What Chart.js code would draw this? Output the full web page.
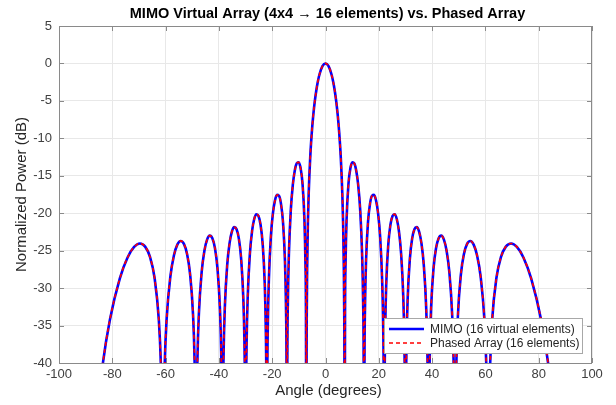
<!DOCTYPE html>
<html>
<head>
<meta charset="utf-8">
<script src="https://cdn.jsdelivr.net/npm/chart.js@4.4.1/dist/chart.umd.min.js"></script>
<style>
  html, body { margin: 0; padding: 0; background: #ffffff; }
  canvas { display: block; }
</style>
</head>
<body>
<canvas id="chart" width="616" height="405"></canvas>
<script>
// Array-factor comparison: 4x4 MIMO virtual array (16 elements) vs. 16-element phased array.
// Angles in degrees; power in dB normalised to the main-lobe peak. Nulls sit below the axis floor.
const angles = [
  -90.000, -85.948, -83.591, -80.934, -77.167, -74.266, -71.809, -69.642, -67.674, -65.855, -64.161, -62.565, -61.796, -61.346,
  -61.046, -60.753, -60.317, -59.602, -58.214, -56.879, -55.592, -54.344, -53.131, -51.953, -50.806, -49.688, -49.136, -48.809,
  -48.593, -48.377, -48.053, -47.522, -46.471, -45.441, -44.429, -43.434, -42.456, -41.493, -40.543, -39.607, -39.143, -38.867,
  -38.684, -38.501, -38.226, -37.772, -36.870, -35.980, -35.100, -34.230, -33.368, -32.515, -31.669, -30.831, -30.416, -30.166,
  -30.000, -29.835, -29.589, -29.177, -28.360, -27.550, -26.745, -25.945, -25.151, -24.363, -23.579, -22.799, -22.412, -22.179,
  -22.024, -21.870, -21.639, -21.254, -20.487, -19.725, -18.966, -18.210, -17.458, -16.708, -15.962, -15.218, -14.848, -14.626,
  -14.478, -14.330, -14.108, -13.739, -13.003, -12.269, -11.537, -10.807, -10.079, -9.352, -8.627, -7.903, -7.542, -7.325,
  -7.181, -7.123, -7.036, -6.892, -6.604, -6.315, -5.739, -5.164, -4.589, -4.014, -3.440, -2.866, -2.292, -1.146,
  0.000,
  1.146, 2.292, 2.866, 3.440, 4.014, 4.589, 5.164, 5.739, 6.315, 6.604, 6.892, 7.036, 7.123, 7.181,
  7.325, 7.542, 7.903, 8.627, 9.352, 10.079, 10.807, 11.537, 12.269, 13.003, 13.739, 14.108, 14.330, 14.478,
  14.626, 14.848, 15.218, 15.962, 16.708, 17.458, 18.210, 18.966, 19.725, 20.487, 21.254, 21.639, 21.870, 22.024,
  22.179, 22.412, 22.799, 23.579, 24.363, 25.151, 25.945, 26.745, 27.550, 28.360, 29.177, 29.589, 29.835, 30.000,
  30.166, 30.416, 30.831, 31.669, 32.515, 33.368, 34.230, 35.100, 35.980, 36.870, 37.772, 38.226, 38.501, 38.684,
  38.867, 39.143, 39.607, 40.543, 41.493, 42.456, 43.434, 44.429, 45.441, 46.471, 47.522, 48.053, 48.377, 48.593,
  48.809, 49.136, 49.688, 50.806, 51.953, 53.131, 54.344, 55.592, 56.879, 58.214, 59.602, 60.317, 60.753, 61.046,
  61.346, 61.796, 62.565, 64.161, 65.855, 67.674, 69.642, 71.809, 74.266, 77.167, 80.934, 83.591, 85.948, 90.000
];

const mimoDb = [
  -60, -48.12, -40.19, -34.28, -28.70, -25.91, -24.50, -24.04, -24.46, -25.84, -28.59, -34.15, -40.04, -47.96,
  -60, -47.95, -40.01, -34.08, -28.46, -25.64, -24.19, -23.70, -24.09, -25.43, -28.15, -33.66, -39.54, -47.45,
  -60, -47.42, -39.47, -33.52, -27.87, -25.01, -23.52, -22.99, -23.34, -24.64, -27.32, -32.79, -38.65, -46.54,
  -60, -46.50, -38.53, -32.56, -26.86, -23.96, -22.42, -21.85, -22.14, -23.39, -26.02, -31.44, -37.27, -45.15,
  -60, -45.08, -37.09, -31.10, -25.34, -22.37, -20.77, -20.13, -20.36, -21.54, -24.09, -29.42, -35.21, -43.07,
  -60, -42.97, -34.96, -28.92, -23.06, -20.00, -18.30, -17.55, -17.66, -18.72, -21.14, -26.34, -32.05, -39.86,
  -60, -39.70, -31.64, -25.52, -19.49, -16.23, -14.32, -13.34, -13.19, -13.97, -16.06, -20.90, -26.41, -34.09,
  -60, -41.80, -33.76, -27.58, -21.26, -17.47, -12.58, -9.33, -6.91, -5.04, -3.57, -2.41, -1.51, -0.37,
  0.00,
  -0.37, -1.51, -2.41, -3.57, -5.04, -6.91, -9.33, -12.58, -17.47, -21.26, -27.58, -33.76, -41.80, -60,
  -34.09, -26.41, -20.90, -16.06, -13.97, -13.19, -13.34, -14.32, -16.23, -19.49, -25.52, -31.64, -39.70, -60,
  -39.86, -32.05, -26.34, -21.14, -18.72, -17.66, -17.55, -18.30, -20.00, -23.06, -28.92, -34.96, -42.97, -60,
  -43.07, -35.21, -29.42, -24.09, -21.54, -20.36, -20.13, -20.77, -22.37, -25.34, -31.10, -37.09, -45.08, -60,
  -45.15, -37.27, -31.44, -26.02, -23.39, -22.14, -21.85, -22.42, -23.96, -26.86, -32.56, -38.53, -46.50, -60,
  -46.54, -38.65, -32.79, -27.32, -24.64, -23.34, -22.99, -23.52, -25.01, -27.87, -33.52, -39.47, -47.42, -60,
  -47.45, -39.54, -33.66, -28.15, -25.43, -24.09, -23.70, -24.19, -25.64, -28.46, -34.08, -40.01, -47.95, -60,
  -47.96, -40.04, -34.15, -28.59, -25.84, -24.46, -24.04, -24.50, -25.91, -28.70, -34.28, -40.19, -48.12, -60
];

const phasedDb = [
  -60, -48.12, -40.19, -34.28, -28.70, -25.91, -24.50, -24.04, -24.46, -25.84, -28.59, -34.15, -40.04, -47.96,
  -60, -47.95, -40.01, -34.08, -28.46, -25.64, -24.19, -23.70, -24.09, -25.43, -28.15, -33.66, -39.54, -47.45,
  -60, -47.42, -39.47, -33.52, -27.87, -25.01, -23.52, -22.99, -23.34, -24.64, -27.32, -32.79, -38.65, -46.54,
  -60, -46.50, -38.53, -32.56, -26.86, -23.96, -22.42, -21.85, -22.14, -23.39, -26.02, -31.44, -37.27, -45.15,
  -60, -45.08, -37.09, -31.10, -25.34, -22.37, -20.77, -20.13, -20.36, -21.54, -24.09, -29.42, -35.21, -43.07,
  -60, -42.97, -34.96, -28.92, -23.06, -20.00, -18.30, -17.55, -17.66, -18.72, -21.14, -26.34, -32.05, -39.86,
  -60, -39.70, -31.64, -25.52, -19.49, -16.23, -14.32, -13.34, -13.19, -13.97, -16.06, -20.90, -26.41, -34.09,
  -60, -41.80, -33.76, -27.58, -21.26, -17.47, -12.58, -9.33, -6.91, -5.04, -3.57, -2.41, -1.51, -0.37,
  0.00,
  -0.37, -1.51, -2.41, -3.57, -5.04, -6.91, -9.33, -12.58, -17.47, -21.26, -27.58, -33.76, -41.80, -60,
  -34.09, -26.41, -20.90, -16.06, -13.97, -13.19, -13.34, -14.32, -16.23, -19.49, -25.52, -31.64, -39.70, -60,
  -39.86, -32.05, -26.34, -21.14, -18.72, -17.66, -17.55, -18.30, -20.00, -23.06, -28.92, -34.96, -42.97, -60,
  -43.07, -35.21, -29.42, -24.09, -21.54, -20.36, -20.13, -20.77, -22.37, -25.34, -31.10, -37.09, -45.08, -60,
  -45.15, -37.27, -31.44, -26.02, -23.39, -22.14, -21.85, -22.42, -23.96, -26.86, -32.56, -38.53, -46.50, -60,
  -46.54, -38.65, -32.79, -27.32, -24.64, -23.34, -22.99, -23.52, -25.01, -27.87, -33.52, -39.47, -47.42, -60,
  -47.45, -39.54, -33.66, -28.15, -25.43, -24.09, -23.70, -24.19, -25.64, -28.46, -34.08, -40.01, -47.95, -60,
  -47.96, -40.04, -34.15, -28.59, -25.84, -24.46, -24.04, -24.50, -25.91, -28.70, -34.28, -40.19, -48.12, -60
];

const xTickValues = [-100, -80, -60, -40, -20, 0, 20, 40, 60, 80, 100];
const yTickValues = [-40, -35, -30, -25, -20, -15, -10, -5, 0, 5];

const seriesLabels = ['MIMO (16 virtual elements)', 'Phased Array (16 elements)'];
const titleText = 'MIMO Virtual Array (4x4 \u2192 16 elements) vs. Phased Array';
const xTitle = 'Angle (degrees)';
const yTitle = 'Normalized Power (dB)';

const FONT = '"Liberation Sans", Arial, Helvetica, sans-serif';
const TEXT_COLOR = '#262626';
const TICK_COLOR = '#404040';
const FRAME_COLOR = '#8a8a8a';

const toPoints = (xs, ys) => xs.map((x, i) => ({ x: x, y: ys[i] }));

// Axes box with inward tick marks on all four sides, plus the title and axis labels.
const framePlugin = {
  id: 'frame',
  beforeDatasetsDraw(chart) {
    const { ctx, chartArea: a, scales } = chart;
    ctx.save();
    ctx.strokeStyle = FRAME_COLOR;
    ctx.lineWidth = 1;
    ctx.beginPath();
    const tl = 5;
    xTickValues.forEach(v => {
      const px = Math.round(scales.x.getPixelForValue(v)) + 0.5;
      ctx.moveTo(px, a.bottom); ctx.lineTo(px, a.bottom - tl);
      ctx.moveTo(px, a.top); ctx.lineTo(px, a.top + tl);
    });
    yTickValues.forEach(v => {
      const py = Math.round(scales.y.getPixelForValue(v)) + 0.5;
      ctx.moveTo(a.left, py); ctx.lineTo(a.left + tl, py);
      ctx.moveTo(a.right, py); ctx.lineTo(a.right - tl, py);
    });
    ctx.stroke();
    ctx.restore();
  },
  afterDraw(chart) {
    const { ctx, chartArea: a } = chart;
    ctx.save();
    ctx.strokeStyle = FRAME_COLOR;
    ctx.lineWidth = 1;
    ctx.strokeRect(Math.round(a.left) + 0.5, Math.round(a.top) + 0.5,
                   Math.round(a.right - a.left) - 1, Math.round(a.bottom - a.top));
    const cx = (a.left + a.right) / 2;
    ctx.fillStyle = '#000000';
    ctx.textAlign = 'center';
    ctx.textBaseline = 'middle';
    ctx.font = 'bold 14.5px ' + FONT;
    ctx.fillText(titleText, cx + 2, 14);
    ctx.fillStyle = TEXT_COLOR;
    ctx.font = '15px ' + FONT;
    ctx.fillText(xTitle, cx + 3, 391);
    ctx.translate(22, (a.top + a.bottom) / 2);
    ctx.rotate(-Math.PI / 2);
    ctx.fillText(yTitle, 0, 0);
    ctx.restore();
  }
};

// Legend box in the lower-right corner of the plot area.
const legendPlugin = {
  id: 'boxLegend',
  afterDatasetsDraw(chart) {
    const { ctx, chartArea: a } = chart;
    const ds = chart.data.datasets;
    const w = 198, h = 35;
    const x0 = a.right - 10 - w, y0 = a.bottom - 10 - h;
    ctx.save();
    ctx.fillStyle = '#ffffff';
    ctx.fillRect(x0, y0, w, h);
    ctx.strokeStyle = '#a8a8a8';
    ctx.lineWidth = 1;
    ctx.strokeRect(x0 + 0.5, y0 + 0.5, w, h);
    ctx.font = '12px ' + FONT;
    ctx.textAlign = 'left';
    ctx.textBaseline = 'middle';
    ds.forEach((d, i) => {
      const yy = y0 + 11 + i * 14;
      ctx.beginPath();
      ctx.strokeStyle = d.borderColor;
      ctx.lineWidth = d.borderWidth;
      ctx.setLineDash(d.borderDash || []);
      ctx.moveTo(x0 + 5, yy);
      ctx.lineTo(x0 + 40, yy);
      ctx.stroke();
      ctx.setLineDash([]);
      ctx.fillStyle = TEXT_COLOR;
      ctx.fillText(d.label, x0 + 46, yy + 0.5);
    });
    ctx.restore();
  }
};

new Chart(document.getElementById('chart'), {
  type: 'line',
  data: {
    datasets: [
      {
        label: seriesLabels[0],
        data: toPoints(angles, mimoDb),
        borderColor: '#0000ff',
        borderWidth: 2.6,
        pointRadius: 0,
        cubicInterpolationMode: 'monotone',
        fill: false,
        order: 2
      },
      {
        label: seriesLabels[1],
        data: toPoints(angles, phasedDb),
        borderColor: '#ff0000',
        borderWidth: 1.7,
        borderDash: [4, 3],
        pointRadius: 0,
        cubicInterpolationMode: 'monotone',
        fill: false,
        order: 1
      }
    ]
  },
  options: {
    responsive: false,
    devicePixelRatio: 1,
    animation: false,
    events: [],
    layout: { padding: { left: 0, right: 24, top: 26, bottom: 0 } },
    plugins: {
      legend: { display: false },
      title: { display: false },
      tooltip: { enabled: false }
    },
    scales: {
      x: {
        type: 'linear',
        min: -100,
        max: 100,
        afterBuildTicks: s => { s.ticks = xTickValues.map(v => ({ value: v })); },
        afterFit: s => { s.height = 42; },
        grid: { color: '#e8e8e8', drawTicks: false, lineWidth: 1 },
        border: { display: false },
        ticks: { padding: 4, autoSkip: false, maxRotation: 0, color: TICK_COLOR, font: { family: FONT, size: 13 } }
      },
      y: {
        type: 'linear',
        min: -40,
        max: 5,
        afterBuildTicks: s => { s.ticks = yTickValues.map(v => ({ value: v })); },
        afterFit: s => { s.width = 59; },
        grid: { color: '#e8e8e8', drawTicks: false, lineWidth: 1 },
        border: { display: false },
        ticks: { padding: 7, autoSkip: false, color: TICK_COLOR, font: { family: FONT, size: 13 } }
      }
    }
  },
  plugins: [framePlugin, legendPlugin]
});
</script>
</body>
</html>
